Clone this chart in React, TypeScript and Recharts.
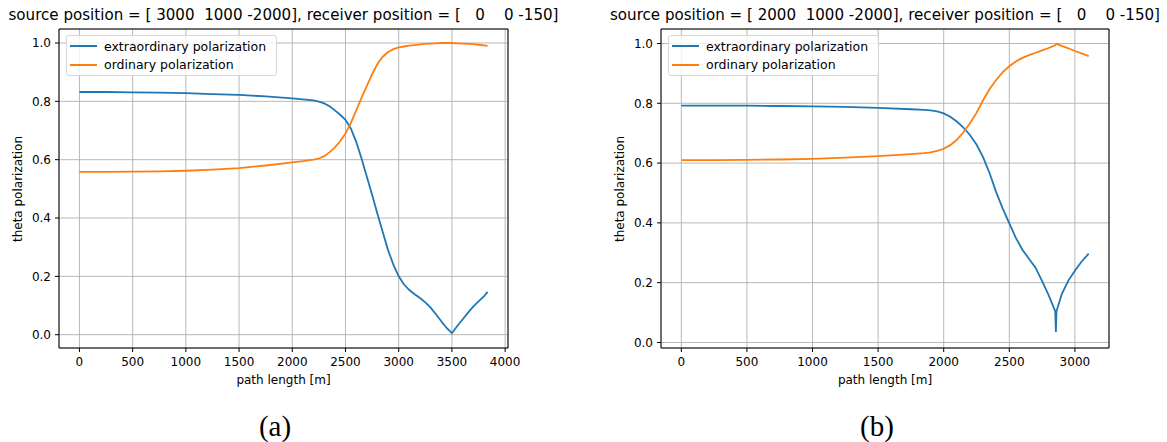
import React from "react";
import {
  LineChart,
  Line,
  XAxis,
  YAxis,
  CartesianGrid,
  ReferenceArea,
} from "recharts";

// ---- panel (a): source [3000 1000 -2000] ----
const pathA = [
  0, 250, 500, 750, 1000, 1250, 1500, 1750, 2000, 2100, 2200, 2250, 2300, 2350,
  2400, 2450, 2500, 2550, 2600, 2650, 2700, 2750, 2800, 2850, 2900, 2950, 3000,
  3050, 3100, 3150, 3200, 3250, 3300, 3350, 3400, 3450, 3500, 3550, 3600, 3650,
  3700, 3750, 3800, 3835,
];
const extraA = [
  0.832, 0.832, 0.831, 0.83, 0.828, 0.825, 0.822, 0.817, 0.81, 0.807, 0.803,
  0.799, 0.793, 0.783, 0.769, 0.754, 0.737, 0.707, 0.662, 0.605, 0.542, 0.48,
  0.415, 0.352, 0.29, 0.24, 0.2, 0.172, 0.153, 0.139, 0.126, 0.111, 0.093, 0.07,
  0.046, 0.023, 0.005, 0.03, 0.052, 0.075, 0.096, 0.114, 0.131, 0.147,
];
const ordA = [
  0.558, 0.558, 0.559, 0.56, 0.562, 0.566, 0.571, 0.58, 0.591, 0.595, 0.6,
  0.604, 0.612, 0.625, 0.642, 0.663, 0.69, 0.725, 0.768, 0.812, 0.852, 0.893,
  0.928, 0.953, 0.969, 0.979, 0.985, 0.988, 0.991, 0.993, 0.995, 0.997, 0.998,
  0.999, 1.0, 1.0, 1.0, 0.999, 0.998, 0.997, 0.996, 0.994, 0.992, 0.99,
];

// ---- panel (b): source [2000 1000 -2000] ----
const pathB = [
  0, 250, 500, 750, 1000, 1250, 1500, 1750, 1850, 1900, 1950, 2000, 2050, 2100,
  2150, 2200, 2250, 2300, 2350, 2400, 2450, 2500, 2550, 2600, 2650, 2700, 2750,
  2800, 2850, 2855, 2860, 2900, 2950, 3000, 3050, 3105,
];
const extraB = [
  0.792, 0.792, 0.792, 0.791, 0.79, 0.788, 0.785, 0.78, 0.778, 0.776, 0.773,
  0.766, 0.755, 0.739, 0.719, 0.694, 0.662, 0.62, 0.566, 0.503, 0.448, 0.398,
  0.35, 0.31, 0.28, 0.25, 0.205, 0.158, 0.105, 0.035, 0.105, 0.162, 0.207, 0.24,
  0.27, 0.297,
];
const ordB = [
  0.61, 0.61, 0.611, 0.612, 0.614, 0.618, 0.623, 0.63, 0.633, 0.636, 0.641,
  0.648, 0.66, 0.678, 0.703, 0.733, 0.768, 0.81, 0.848, 0.878, 0.904, 0.924,
  0.94, 0.952, 0.961, 0.969, 0.977, 0.985, 0.994, 0.997, 0.999, 0.992, 0.984,
  0.975, 0.967, 0.958,
];

const ticksXA = [0, 500, 1000, 1500, 2000, 2500, 3000, 3500, 4000];
const ticksXB = [0, 500, 1000, 1500, 2000, 2500, 3000];
const ticksY = [0, 0.2, 0.4, 0.6, 0.8, 1.0];

const seriesNames = ["extraordinary polarization", "ordinary polarization"];
const seriesColors = ["#1f77b4", "#ff7f0e"];

const titleA =
  "source position = [ 3000  1000 -2000], receiver position = [   0    0 -150]";
const titleB =
  "source position = [ 2000  1000 -2000], receiver position = [   0    0 -150]";

const FONT = "'DejaVu Sans', sans-serif";

function buildRows(xs: number[], e: number[], o: number[]) {
  return xs.map((x, i) => ({ x, extra: e[i], ord: o[i] }));
}

function LegendBox({ left, top }: { left: number; top: number }) {
  return (
    <div
      style={{
        position: "absolute",
        left,
        top,
        width: 211,
        height: 41,
        border: "1px solid #d6d6d6",
        borderRadius: 3,
        background: "rgba(255,255,255,0.8)",
        fontFamily: FONT,
        fontSize: 12.5,
        color: "#000",
        boxSizing: "border-box",
      }}
    >
      {seriesNames.map((name, i) => (
        <div
          key={name}
          style={{
            position: "absolute",
            left: 3,
            top: 2 + i * 18.5,
            height: 16,
            display: "flex",
            alignItems: "center",
            whiteSpace: "nowrap",
          }}
        >
          <span
            style={{
              display: "inline-block",
              width: 27,
              height: 2,
              background: seriesColors[i],
              marginRight: 7,
            }}
          />
          {name}
        </div>
      ))}
    </div>
  );
}

type PanelProps = {
  left: number;
  width: number;
  margin: { top: number; right: number; bottom: number; left: number };
  rows: { x: number; extra: number; ord: number }[];
  xDomain: [number, number];
  yDomain: [number, number];
  xTicks: number[];
  title: string;
  caption: string;
  captionX: number;
};

function Panel(p: PanelProps) {
  const plotLeft = p.margin.left + 50;
  const plotRight = p.width - p.margin.right;
  const cx = (plotLeft + plotRight) / 2;
  const tickStyle = { fontFamily: FONT, fontSize: 12, fill: "#000" };
  return (
    <div
      style={{
        position: "absolute",
        left: p.left,
        top: 0,
        width: p.width,
        height: 442,
      }}
    >
      <LineChart width={p.width} height={442} data={p.rows} margin={p.margin}>
        <CartesianGrid stroke="#b0b0b0" strokeWidth={0.9} />
        <XAxis
          dataKey="x"
          type="number"
          domain={p.xDomain}
          ticks={p.xTicks}
          allowDataOverflow
          height={40}
          axisLine={false}
          tickLine={{ stroke: "#000" }}
          tickSize={4}
          tickMargin={5}
          tick={tickStyle}
          interval={0}
        />
        <YAxis
          type="number"
          domain={p.yDomain}
          ticks={ticksY}
          allowDataOverflow
          width={50}
          axisLine={false}
          tickLine={{ stroke: "#000" }}
          tickSize={4}
          tickMargin={4}
          tick={tickStyle}
          interval={0}
          tickFormatter={(v: number) => v.toFixed(1)}
        />
        <Line
          dataKey="extra"
          name={seriesNames[0]}
          stroke={seriesColors[0]}
          strokeWidth={1.8}
          dot={false}
          type="linear"
          isAnimationActive={false}
        />
        <Line
          dataKey="ord"
          name={seriesNames[1]}
          stroke={seriesColors[1]}
          strokeWidth={1.8}
          dot={false}
          type="linear"
          isAnimationActive={false}
        />
        <ReferenceArea
          x1={p.xDomain[0]}
          x2={p.xDomain[1]}
          y1={p.yDomain[0]}
          y2={p.yDomain[1]}
          fill="none"
          stroke="#000"
          strokeWidth={1}
          ifOverflow="visible"
        />
      </LineChart>
      <LegendBox left={plotLeft + 7} top={35} />
      <div
        style={{
          position: "absolute",
          left: cx,
          top: 15,
          transform: "translate(-50%, -50%)",
          whiteSpace: "pre",
          fontFamily: FONT,
          fontSize: 15.1,
          color: "#000",
        }}
      >
        {p.title}
      </div>
      <div
        style={{
          position: "absolute",
          left: cx,
          top: 380,
          transform: "translate(-50%, -50%)",
          whiteSpace: "pre",
          fontFamily: FONT,
          fontSize: 12,
          color: "#000",
        }}
      >
        path length [m]
      </div>
      <div
        style={{
          position: "absolute",
          left: plotLeft - 41,
          top: (p.margin.top + 348) / 2,
          transform: "translate(-50%, -50%) rotate(-90deg)",
          whiteSpace: "pre",
          fontFamily: FONT,
          fontSize: 12,
          color: "#000",
        }}
      >
        theta polarization
      </div>
      <div
        style={{
          position: "absolute",
          left: p.captionX,
          top: 426,
          transform: "translate(-50%, -50%)",
          whiteSpace: "pre",
          fontFamily: "'Liberation Serif', 'DejaVu Serif', serif",
          fontSize: 29,
          color: "#000",
        }}
      >
        {p.caption}
      </div>
    </div>
  );
}

export default function App() {
  const rowsA = buildRows(pathA, extraA, ordA);
  const rowsB = buildRows(pathB, extraB, ordB);
  return (
    <div
      style={{
        position: "fixed",
        left: 0,
        top: 0,
        width: 1167,
        height: 442,
        background: "#fff",
        overflow: "hidden",
      }}
    >
      <Panel
        left={0}
        width={580}
        margin={{ top: 29, right: 72, bottom: 54, left: 9 }}
        rows={rowsA}
        xDomain={[-192, 4027]}
        yDomain={[-0.0456, 1.048]}
        xTicks={ticksXA}
        title={titleA}
        caption="(a)"
        captionX={275}
      />
      <Panel
        left={580}
        width={587}
        margin={{ top: 29, right: 58, bottom: 54, left: 31 }}
        rows={rowsB}
        xDomain={[-155, 3260]}
        yDomain={[-0.0185, 1.0485]}
        xTicks={ticksXB}
        title={titleB}
        caption="(b)"
        captionX={297}
      />
    </div>
  );
}
